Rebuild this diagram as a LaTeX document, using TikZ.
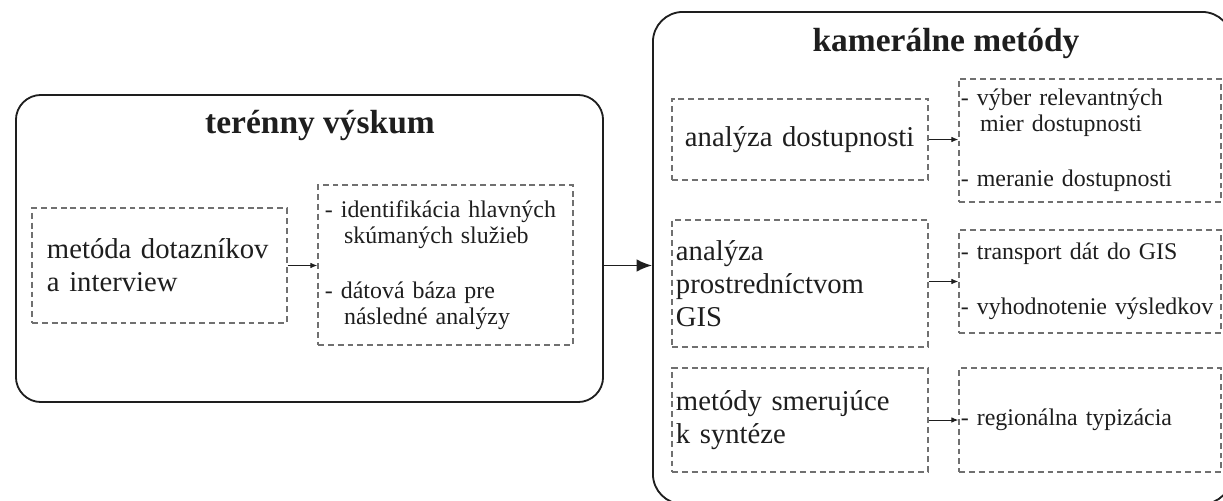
\documentclass[tikz,border=0pt]{standalone}
\usepackage{fontspec}
\setmainfont{Liberation Serif}
\usepackage{xcolor}
\usepackage{tikz}
\usetikzlibrary{arrows.meta}

\definecolor{inkc}{HTML}{1E1E1E}
\definecolor{dashc}{HTML}{707070}

\begin{document}
\begin{tikzpicture}[
        x=0.025cm, y=-0.025cm,
        group/.style={draw=inkc, line width=1.3pt, rounded corners=#1},
        title/.style={font=\fontsize{23.8}{28}\selectfont\bfseries, text=inkc},
        meth/.style={draw=dashc, line width=0.9pt, dash pattern=on 4.2pt off 2.8pt,
                     align=left, inner ysep=0pt, text=inkc,
                     font=\fontsize{20.4}{23.5}\selectfont},
        outc/.style={meth, font=\fontsize{17}{18.5}\selectfont},
        dep/.style={-{Latex[length=5pt,width=4pt]}, line width=0.7pt, draw=inkc},
        flow/.style={-{Latex[length=11pt,width=9pt]}, line width=1.3pt, draw=inkc}
    ]
        \clip (0,0) rectangle (1223,500);

        % field research
        \node[group=0.625cm, minimum width=14.675cm, minimum height=7.675cm] (terenny) at (309.5,248.5) {};
        \node[title] (terennyt) at (320,125) {terénny výskum};
        \node[meth, text width=5.625cm, inner xsep=0.375cm, minimum height=2.875cm] (dotaznik) at (159.5,265.5)
            {metóda dotazníkov\\a interview};
        \node[outc, text width=6.025cm, inner xsep=0.175cm, minimum height=4cm] (dotaznikout) at (445.5,265)
            {- identifikácia hlavných\\\hspace*{0.8em}skúmaných služieb\\[20.6pt]- dátová báza pre\\\hspace*{0.8em}následné analýzy};

        % office methods
        \node[group=0.75cm, minimum width=14.475cm, minimum height=12.3cm] (kameralne) at (942.5,258) {};
        \node[title] (kameralnet) at (946,43) {kamerálne metódy};
        \node[meth, text width=5.75cm, inner xsep=0.325cm, minimum height=2.025cm] (dostup) at (800,139.5)
            {analýza dostupnosti};
        \node[outc, text width=6.45cm, inner xsep=0.05cm, minimum height=3.075cm] (dostupout) at (1090,140.5)
            {- výber relevantných\\\hspace*{0.8em}mier dostupnosti\\[20.6pt]- meranie dostupnosti};
        \node[meth, text width=6.2cm, inner xsep=0.1cm, minimum height=3.175cm] (gis) at (800,283.5)
            {analýza\\prostredníctvom\\GIS};
        \node[outc, text width=6.45cm, inner xsep=0.05cm, minimum height=2.575cm] (gisout) at (1090,281.5)
            {- transport dát do GIS\\[20.6pt]- vyhodnotenie výsledkov};
        \node[meth, text width=6.2cm, inner xsep=0.1cm, minimum height=2.6cm] (synteza) at (800,420)
            {metódy smerujúce\\k syntéze};
        \node[outc, text width=6.45cm, inner xsep=0.05cm, minimum height=2.6cm] (syntezaout) at (1090,420)
            {- regionálna typizácia};

        \draw[dep] (dotaznik.east) -- (dotaznik -| dotaznikout.west);
        \draw[dep] (dostup.east) -- (dostup -| dostupout.west);
        \draw[dep] (gisout -| gis.east) -- (gisout.west);
        \draw[dep] (synteza.east) -- (synteza -| syntezaout.west);
        \draw[flow] (dotaznik -| terenny.east) -- (dotaznik -| kameralne.west);
    \end{tikzpicture}
\end{document}
